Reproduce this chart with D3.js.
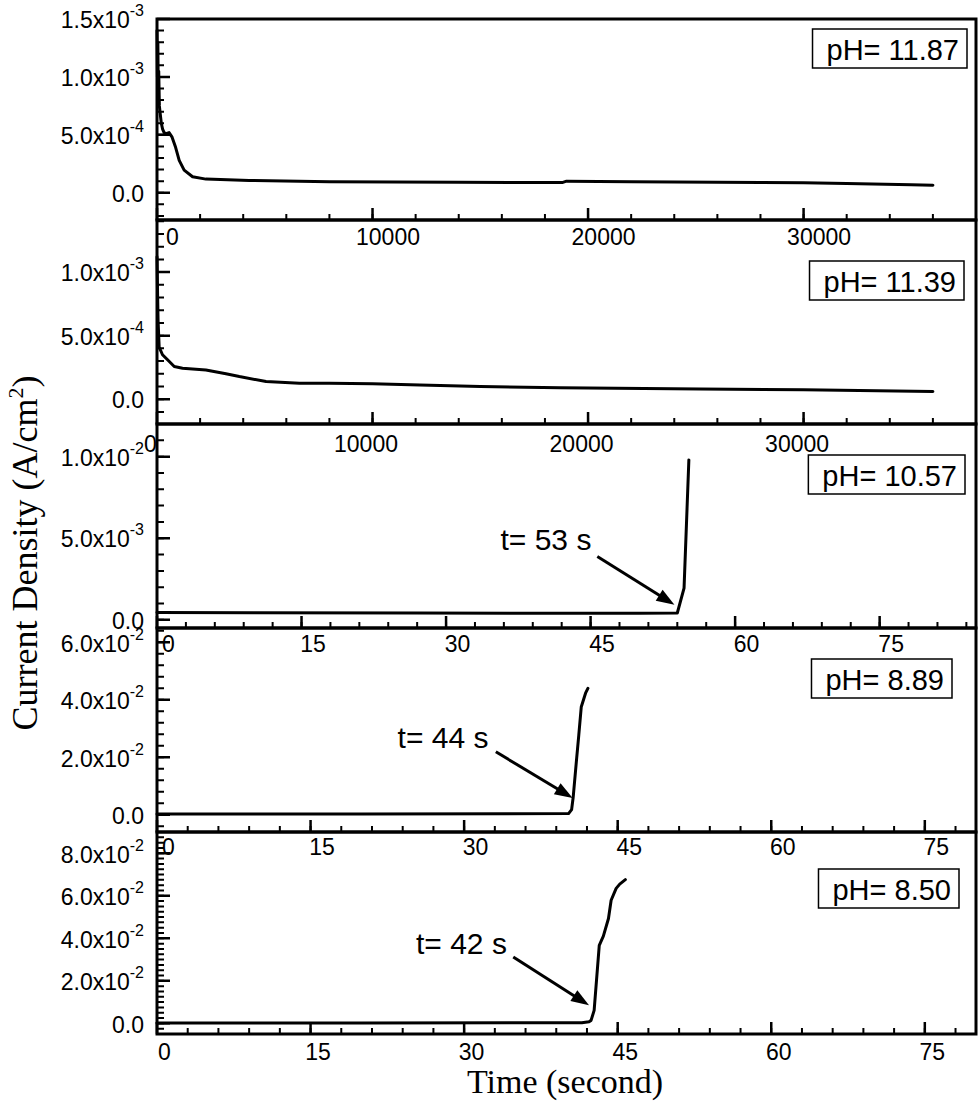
<!DOCTYPE html>
<html>
<head>
<meta charset="utf-8">
<script src="https://cdn.jsdelivr.net/npm/d3@7/dist/d3.min.js"></script>
<style>
  html, body { margin: 0; padding: 0; background: #fff; color: #000; }
  svg { display: block; }
</style>
</head>
<body>
<svg id="chart" width="980" height="1105"></svg>
<script>
// ---------------- DATA ----------------
// pH 11.87 (time in s, current density in A/cm^2)
const ph1187Time    = [0, 20, 40, 60, 80, 110, 150, 200, 260, 330, 420, 560, 700, 850, 1030, 1260, 1650, 2270, 4280, 8000, 14000, 18800, 19000, 22000, 28000, 30000, 32000, 35000, 36000];
const ph1187Current = [1.40e-3, 1.0e-3, 1.3e-3, 8.5e-4, 1.05e-3, 7.5e-4, 6.8e-4, 6.0e-4, 5.5e-4, 5.2e-4, 5.1e-4, 5.2e-4, 4.8e-4, 4.0e-4, 2.8e-4, 1.96e-4, 1.38e-4, 1.18e-4, 1.07e-4, 9.5e-5, 9.0e-5, 8.8e-5, 1.0e-4, 9.5e-5, 8.8e-5, 8.6e-5, 8.0e-5, 7.0e-5, 6.6e-5];
// pH 11.39
const ph1139Time    = [0, 30, 50, 100, 255, 490, 800, 1185, 2270, 3200, 3820, 5060, 6610, 8000, 10000, 12200, 15000, 18700, 25200, 30000, 36000];
const ph1139Current = [1.12e-3, 8.0e-4, 6.2e-4, 4.1e-4, 3.5e-4, 3.1e-4, 2.57e-4, 2.44e-4, 2.3e-4, 2.0e-4, 1.78e-4, 1.39e-4, 1.26e-4, 1.26e-4, 1.22e-4, 1.12e-4, 1.0e-4, 9.0e-5, 8.0e-5, 7.5e-5, 6.0e-5];
// pH 10.57
const ph1057Time    = [0, 10, 27, 40, 50, 54.0, 54.7, 55.2];
const ph1057Current = [4.5e-4, 4.3e-4, 4.2e-4, 4.0e-4, 4.0e-4, 4.2e-4, 1.94e-3, 9.8e-3];
// pH 8.89
const ph889Time    = [0, 20, 40.2, 40.5, 40.65, 41.0, 41.2, 41.44, 41.86, 42.09];
const ph889Current = [3e-4, 3e-4, 4e-4, 1.8e-3, 6.0e-3, 0.020, 0.0277, 0.0375, 0.0423, 0.0440];
// pH 8.50
const ph850Time    = [0, 20, 41.5, 42.2, 42.4, 42.7, 43.2, 43.6, 44.1, 44.36, 44.85, 45.2, 45.75];
const ph850Current = [1.5e-4, 1.5e-4, 3e-4, 8e-4, 1.4e-3, 6.1e-3, 0.0367, 0.0410, 0.0493, 0.0579, 0.0635, 0.0655, 0.0676];

const phLabels = ["pH= 11.87", "pH= 11.39", "pH= 10.57", "pH= 8.89", "pH= 8.50"];

// tick labels
const xTicksLong  = [0, 10000, 20000, 30000];
const xTicksShort = [0, 15, 30, 45, 60, 75];
const yTicksP1 = [0, 5e-4, 1e-3, 1.5e-3];
const yTicksP2 = [0, 5e-4, 1e-3];
const yTicksP3 = [0, 5e-3, 1e-2];
const yTicksP4 = [0, 2e-2, 4e-2, 6e-2];
const yTicksP5 = [0, 2e-2, 4e-2, 6e-2, 8e-2];

// annotations (data coordinates): text position, arrow tail, arrow tip
const annotTexts = ["t= 53 s", "t= 44 s", "t= 42 s"];
const annotTextPos = [[35.65, 4.29e-3], [23.5, 0.0232], [25.3, 0.0325]];
const annotTail = [[45.7, 3.88e-3], [33.1, 0.0219], [34.8, 0.0312]];
const annotTip  = [[53.7, 0.92e-3], [40.6, 0.0058], [42.2, 0.0085]];

// ---------------- LAYOUT ----------------
const left = 157, right = 976;
const panels = [
  { t: ph1187Time, v: ph1187Current, top: 19,  bottom: 220, xDom: [0, 38000], xMaj: xTicksLong,  xMin: 2000, yDom: [-2.35e-4, 1.5e-3], yMaj: yTicksP1, yMin: 1e-4,  xDx: 15, xPad: 8.7,  boxTop: 29,  boxRight: 967, ann: -1 },
  { t: ph1139Time, v: ph1139Current, top: 220, bottom: 424, xDom: [0, 38000], xMaj: xTicksLong,  xMin: 2000, yDom: [-1.95e-4, 1.41e-3], yMaj: yTicksP2, yMin: 1e-4, xDx: -7, xPad: 11.7, boxTop: 261, boxRight: 964, ann: -1 },
  { t: ph1057Time, v: ph1057Current, top: 424, bottom: 628, xDom: [0, 85],    xMaj: xTicksShort, xMin: 3,    yDom: [-5e-4, 1.2e-2],     yMaj: yTicksP3, yMin: 1e-3,  xDx: 11, xPad: 7.7,  boxTop: 455, boxRight: 965, ann: 0 },
  { t: ph889Time,  v: ph889Current,  top: 628, bottom: 832, xDom: [0, 80],    xMaj: xTicksShort, xMin: 3,    yDom: [-6e-3, 6.5e-2],     yMaj: yTicksP4, yMin: 4e-3,  xDx: 11, xPad: 6.7,  boxTop: 659, boxRight: 952, ann: 1 },
  { t: ph850Time,  v: ph850Current,  top: 832, bottom: 1034, xDom: [0, 80],   xMaj: xTicksShort, xMin: 3,    yDom: [-5e-3, 9e-2],       yMaj: yTicksP5, yMin: 2.5e-3, xDx: 7, xPad: 9.7,  boxTop: 869, boxRight: 959, ann: 2 }
];

const svg = d3.select("#chart");
const sansFont = "'Liberation Sans', Arial, Helvetica, sans-serif";
const serifFont = "'Liberation Serif', 'Times New Roman', Times, serif";

function minorValues(dom, step) {
  const out = [];
  const start = Math.ceil(dom[0] / step - 1e-9);
  for (let k = start; k * step <= dom[1] + 1e-12; k++) out.push(+(k * step).toPrecision(10));
  return out;
}

function yLabel(sel, d) {
  sel.text(null);
  if (d === 0) { sel.text("0.0"); return; }
  const e = Math.floor(Math.log10(d) + 1e-9);
  const m = (d / Math.pow(10, e)).toFixed(1);
  sel.append("tspan").text(m + "x10");
  sel.append("tspan").attr("dy", -12).attr("font-size", 16).text(String(e));
}

const contentLayer = svg.append("g");
const axisLayer = svg.append("g");

panels.forEach((p, i) => {
  p.x = d3.scaleLinear().domain(p.xDom).range([left, right]);
  p.y = d3.scaleLinear().domain(p.yDom).range([p.bottom, p.top]);
  const x = p.x, y = p.y;
  const g = contentLayer.append("g");

  // data line
  const pts = p.t.map((tv, k) => [tv, p.v[k]]);
  g.append("path")
    .datum(pts)
    .attr("fill", "none")
    .attr("stroke", "#000")
    .attr("stroke-width", 3)
    .attr("stroke-linejoin", "round")
    .attr("stroke-linecap", "round")
    .attr("d", d3.line().x(d => x(d[0])).y(d => y(d[1])));

  // pH label box
  const box = g.append("rect");
  const txt = g.append("text")
    .attr("x", p.boxRight - 8).attr("y", p.boxTop + 31)
    .attr("text-anchor", "end")
    .attr("font-family", sansFont).attr("font-size", 29)
    .text(phLabels[i]);
  const bb = txt.node().getBBox();
  box.attr("x", bb.x - 14).attr("y", p.boxTop)
    .attr("width", p.boxRight - (bb.x - 14)).attr("height", 39)
    .attr("fill", "#fff").attr("stroke", "#000").attr("stroke-width", 1.5);

  // annotation with arrow
  if (p.ann >= 0) {
    const a = p.ann;
    g.append("text")
      .attr("x", x(annotTextPos[a][0])).attr("y", y(annotTextPos[a][1]))
      .attr("font-family", sansFont).attr("font-size", 30)
      .text(annotTexts[a]);
    const x1 = x(annotTail[a][0]), y1 = y(annotTail[a][1]);
    const x2 = x(annotTip[a][0]),  y2 = y(annotTip[a][1]);
    const dx = x2 - x1, dy = y2 - y1, L = Math.hypot(dx, dy);
    const ux = dx / L, uy = dy / L, hl = 18, hw = 6.5;
    const bx = x2 - ux * hl, by = y2 - uy * hl;
    g.append("line")
      .attr("x1", x1).attr("y1", y1).attr("x2", bx + ux * 2).attr("y2", by + uy * 2)
      .attr("stroke", "#000").attr("stroke-width", 3);
    g.append("polygon")
      .attr("points", [[x2, y2], [bx - uy * hw, by + ux * hw], [bx + uy * hw, by - ux * hw]].map(q => q.join(",")).join(" "))
      .attr("fill", "#000");
  }
});

// axes drawn last, on top of everything
panels.forEach(p => {
  const x = p.x, y = p.y;
  const g = axisLayer.append("g");

  // tick marks as paths built from the scales
  const pMin = d3.path(), pMaj = d3.path();
  minorValues(p.yDom, p.yMin).forEach(v => { pMin.moveTo(left, y(v)); pMin.lineTo(left + 7, y(v)); });
  p.yMaj.forEach(v => { pMaj.moveTo(left, y(v)); pMaj.lineTo(left + 13, y(v)); });
  minorValues(p.xDom, p.xMin).forEach(v => { pMin.moveTo(x(v), p.bottom); pMin.lineTo(x(v), p.bottom - 6); });
  p.xMaj.forEach(v => { pMaj.moveTo(x(v), p.bottom); pMaj.lineTo(x(v), p.bottom - 12); });
  g.append("path").attr("d", pMin.toString()).attr("fill", "none").attr("stroke", "#000").attr("stroke-width", 2);
  g.append("path").attr("d", pMaj.toString()).attr("fill", "none").attr("stroke", "#000").attr("stroke-width", 2.5);

  // labels via d3 axes
  g.append("g").attr("transform", `translate(${left},0)`)
    .call(d3.axisLeft(y).tickValues(p.yMaj).tickSizeInner(0).tickSizeOuter(0).tickPadding(13).tickFormat(""))
    .call(a => a.select(".domain").remove())
    .call(a => a.selectAll(".tick line").remove())
    .call(a => a.selectAll("text")
      .attr("font-family", sansFont).attr("font-size", 23).attr("fill", "#000")
      .attr("dy", "0.38em")
      .each(function(d) { yLabel(d3.select(this), d); }));
  g.append("g").attr("transform", `translate(0,${p.bottom})`)
    .call(d3.axisBottom(x).tickValues(p.xMaj).tickSizeInner(0).tickSizeOuter(0).tickPadding(p.xPad).tickFormat(d3.format("d")))
    .call(a => a.select(".domain").remove())
    .call(a => a.selectAll(".tick line").remove())
    .call(a => a.selectAll("text")
      .attr("font-family", sansFont).attr("font-size", 23).attr("fill", "#000")
      .attr("dx", p.xDx));

  // frame
  g.append("rect")
    .attr("x", left).attr("y", p.top)
    .attr("width", right - left).attr("height", p.bottom - p.top)
    .attr("fill", "none").attr("stroke", "#000").attr("stroke-width", 3);
});

// axis titles
const yt = svg.append("text")
  .attr("transform", "translate(37,553) rotate(-90)")
  .attr("text-anchor", "middle")
  .attr("font-family", serifFont).attr("font-size", 36).attr("fill", "#000");
yt.append("tspan").text("Current Density (A/cm");
yt.append("tspan").attr("dy", -14).attr("font-size", 22).text("2");
yt.append("tspan").attr("dy", 14).text(")");

svg.append("text")
  .attr("x", 565).attr("y", 1093)
  .attr("text-anchor", "middle")
  .attr("font-family", serifFont).attr("font-size", 34).attr("fill", "#000")
  .text("Time (second)");
</script>
</body>
</html>
